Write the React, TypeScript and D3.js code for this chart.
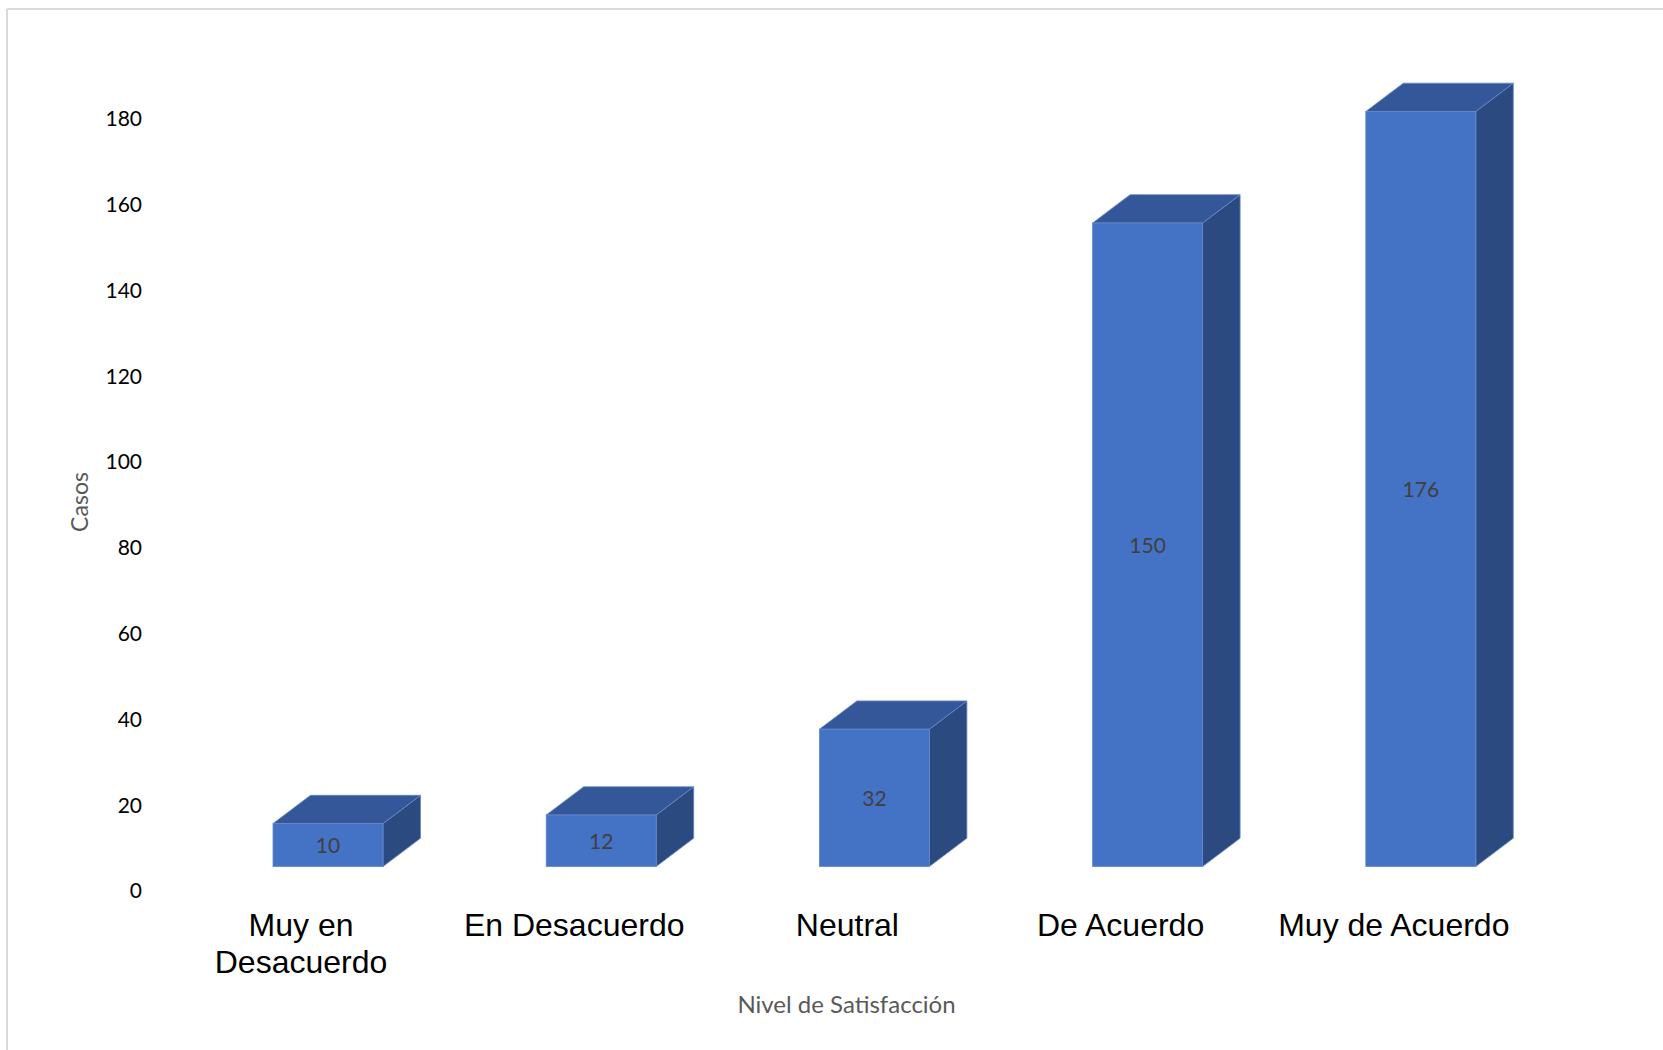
import React from "react";
import * as d3 from "d3";

const categories: string[][] = [
  ["Muy en", "Desacuerdo"],
  ["En Desacuerdo"],
  ["Neutral"],
  ["De Acuerdo"],
  ["Muy de Acuerdo"],
];
const values: number[] = [10, 12, 32, 150, 176];
const tickValues: number[] = [0, 20, 40, 60, 80, 100, 120, 140, 160, 180];
const yTitle = "Casos";
const xTitle = "Nivel de Satisfacción";

const W = 1663;
const H = 1050;

export default function App() {
  const keys = categories.map((c) => c.join(" "));
  const x = d3.scaleBand<string>().domain(keys).range([164.4, 1530.4]).padding(0);
  const y = d3.scaleLinear().domain([0, 180]).range([866.5, 866.5 - 180 * 4.29]);
  const depthX = 37.5;
  const depthY = -28.3;
  const barW = 110;
  const shift = -28; // front face left relative to band center

  const front = "#4472C4";
  const top = "#34579A";
  const side = "#2A4A80";
  const edge = "#6688c8";

  return (
    <svg
      width={W}
      height={H}
      style={{ position: "absolute", left: 0, top: 0, background: "#fff" }}
    >
      <rect x={0} y={0} width={W} height={H} fill="#fff" />
      <line x1={7} y1={9} x2={W} y2={9} stroke="#d9d9d9" strokeWidth={2} />
      <line x1={7} y1={9} x2={7} y2={H} stroke="#d9d9d9" strokeWidth={2} />

      {tickValues.map((t) => (
        <text
          key={t}
          x={142}
          y={y(t) + 24.5}
          dy="0.35em"
          textAnchor="end"
          fontFamily="Lato, 'Open Sans', sans-serif"
          fontSize={21}
          fill="#000"
        >
          {t}
        </text>
      ))}

      {values.map((v, i) => {
        const cx = (x(keys[i]) as number) + x.bandwidth() / 2;
        const x0 = cx + shift;
        const x1 = x0 + barW;
        const yb = y(0);
        const yt = y(v);
        const topPts = [
          [x0, yt],
          [x0 + depthX, yt + depthY],
          [x1 + depthX, yt + depthY],
          [x1, yt],
        ];
        const sidePts = [
          [x1, yt],
          [x1 + depthX, yt + depthY],
          [x1 + depthX, yb + depthY],
          [x1, yb],
        ];
        const toStr = (p: number[][]) => p.map((q) => q.join(",")).join(" ");
        return (
          <g key={i}>
            <polygon points={toStr(sidePts)} fill={side} stroke={edge} strokeWidth={0.8} />
            <polygon points={toStr(topPts)} fill={top} stroke={edge} strokeWidth={0.8} />
            <rect x={x0} y={yt} width={barW} height={yb - yt} fill={front} stroke={edge} strokeWidth={0.8} />
            <text
              x={x0 + barW / 2}
              y={(yt + yb) / 2 + 1}
              dy="0.35em"
              textAnchor="middle"
              fontFamily="Lato, 'Open Sans', sans-serif"
              fontSize={21}
              fill="#404040"
            >
              {v}
            </text>
          </g>
        );
      })}

      {categories.map((lines, i) => {
        const cx = (x(keys[i]) as number) + x.bandwidth() / 2;
        return (
          <text
            key={i}
            textAnchor="middle"
            fontFamily="'Liberation Sans', Arial, sans-serif"
            fontSize={32}
            fill="#000"
          >
            {lines.map((l, j) => (
              <tspan key={j} x={cx} y={936 + j * 36.5}>
                {l}
              </tspan>
            ))}
          </text>
        );
      })}

      <text
        transform={`translate(88,502) rotate(-90)`}
        textAnchor="middle"
        fontFamily="Lato, 'Open Sans', sans-serif"
        fontSize={23}
        fill="#595959"
      >
        {yTitle}
      </text>
      <text
        x={846.5}
        y={1013}
        textAnchor="middle"
        fontFamily="Lato, 'Open Sans', sans-serif"
        fontSize={24}
        fill="#595959"
      >
        {xTitle}
      </text>
    </svg>
  );
}
